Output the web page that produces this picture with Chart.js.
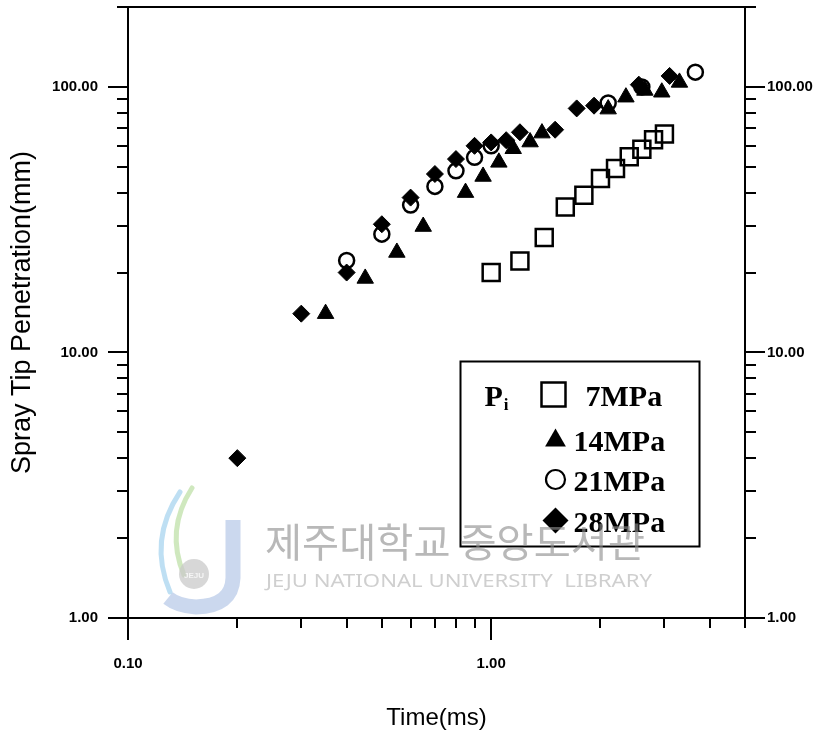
<!DOCTYPE html>
<html>
<head>
<meta charset="utf-8">
<script src="https://cdn.jsdelivr.net/npm/chart.js@4/dist/chart.umd.min.js"></script>
<style>
html,body{margin:0;padding:0;background:#fff;}
#wrap{width:836px;height:731px;position:relative;}
canvas{display:block;}
</style>
</head>
<body>
<div id="wrap"><canvas id="c" width="836" height="731"></canvas></div>
<script>
// ---- tick definitions ----
const xMajorTicks = [0.1, 1];
const xMajorLabels = ['0.10', '1.00'];
const xMinorTicks = [0.2, 0.3, 0.4, 0.5, 0.6, 0.7, 0.8, 0.9, 2, 3, 4, 5];
const yMajorTicks = [1, 10, 100];
const yMajorLabels = ['1.00', '10.00', '100.00'];
const yMinorTicks = [2, 3, 4, 5, 6, 7, 8, 9, 20, 30, 40, 50, 60, 70, 80, 90, 200];

// ---- series ----
const seriesNames = ['7MPa', '14MPa', '21MPa', '28MPa'];
const legendTitle = 'P';
const legendSub = 'i';

const time7 = [1.0, 1.2, 1.4, 1.6, 1.8, 2.0, 2.2, 2.4, 2.6, 2.8, 3.0];
const pen7  = [20.0, 22.1, 27.1, 35.3, 39.1, 45.2, 49.3, 54.6, 58.3, 63.3, 66.5];

const time14 = [0.35, 0.45, 0.55, 0.65, 0.85, 0.95, 1.05, 1.15, 1.28, 1.38, 2.1, 2.35, 2.65, 2.95, 3.3];
const pen14  = [14.0, 19.0, 23.8, 29.8, 40.0, 46.0, 52.0, 58.5, 62.0, 67.0, 82.5, 91.5, 97.0, 95.5, 104.0];

const time21 = [0.4, 0.5, 0.6, 0.7, 0.8, 0.9, 1.0, 2.1, 2.6, 3.65];
const pen21  = [22.2, 27.9, 35.9, 42.2, 48.3, 54.3, 60.0, 87.0, 100.0, 113.7];

const time28 = [0.2, 0.3, 0.4, 0.5, 0.6, 0.7, 0.8, 0.9, 1.0, 1.1, 1.2, 1.5, 1.72, 1.92, 2.55, 3.1];
const pen28  = [4.0, 14.0, 20.0, 30.4, 38.3, 47.0, 53.5, 60.0, 61.8, 63.0, 67.5, 69.0, 83.0, 85.0, 102.0, 110.0];

const watermarkKo = '제주대학교 중앙도서관';
const watermarkEn = 'JEJU NATIONAL UNIVERSITY  LIBRARY';
const watermarkLogo = 'JEJU';

// ---- helpers ----
const toPts = (t, s) => t.map((v, i) => ({x: v, y: s[i]}));
const near = (a, b) => Math.abs(a - b) / b < 1e-6;
function labelFor(v, majors, labels) {
  for (let i = 0; i < majors.length; i++) if (near(v, majors[i])) return labels[i];
  return '';
}
function tickList(majors, minors) {
  return majors.concat(minors).sort((a, b) => a - b).map(v => ({value: v}));
}

const tickFont = {family: "'Liberation Sans', Arial, sans-serif", size: 15, weight: 'bold'};

function drawMarker(ctx, style, x, y, r, lw) {
  ctx.beginPath();
  if (style === 'rect') {
    ctx.rect(x - r, y - r, 2 * r, 2 * r);
    ctx.lineWidth = lw; ctx.stroke();
  } else if (style === 'circle') {
    ctx.arc(x, y, r, 0, Math.PI * 2);
    ctx.lineWidth = lw; ctx.stroke();
  } else if (style === 'triangle') {
    const w = r * Math.sqrt(3);
    ctx.moveTo(x, y - r);
    ctx.lineTo(x + w / 2, y + r / 2);
    ctx.lineTo(x - w / 2, y + r / 2);
    ctx.closePath(); ctx.fill();
  } else if (style === 'rectRot') {
    ctx.moveTo(x, y - r); ctx.lineTo(x + r, y); ctx.lineTo(x, y + r); ctx.lineTo(x - r, y);
    ctx.closePath(); ctx.fill();
  }
}

const frameTicks = {
  id: 'frameTicks',
  afterDraw(chart) {
    const ctx = chart.ctx, ca = chart.chartArea;
    const xs = chart.scales.x, ys = chart.scales.y;
    ctx.save();
    ctx.strokeStyle = '#000';
    ctx.lineWidth = 2;
    ctx.beginPath();
    ctx.moveTo(ca.left - 1, ca.top); ctx.lineTo(ca.right + 1, ca.top);
    xMajorTicks.forEach(v => { const p = Math.round(xs.getPixelForValue(v)); ctx.moveTo(p, ca.bottom); ctx.lineTo(p, ca.bottom + 22); });
    xMinorTicks.forEach(v => { const p = Math.round(xs.getPixelForValue(v)); ctx.moveTo(p, ca.bottom); ctx.lineTo(p, ca.bottom + 10); });
    yMajorTicks.forEach(v => { const p = Math.round(ys.getPixelForValue(v)); ctx.moveTo(ca.left - 20, p); ctx.lineTo(ca.left, p); ctx.moveTo(ca.right, p); ctx.lineTo(ca.right + 20, p); });
    yMinorTicks.forEach(v => { const p = Math.round(ys.getPixelForValue(v)); ctx.moveTo(ca.left - 11, p); ctx.lineTo(ca.left, p); ctx.moveTo(ca.right, p); ctx.lineTo(ca.right + 11, p); });
    ctx.stroke();
    ctx.restore();
  }
};

const boxLegend = {
  id: 'boxLegend',
  afterDraw(chart) {
    const ctx = chart.ctx, ca = chart.chartArea;
    const W = ca.right - ca.left, H = ca.bottom - ca.top;
    const bx = Math.round(ca.left + 0.538 * W) + 0.5;
    const by = Math.round(ca.top + 0.579 * H) + 0.5;
    const bw = Math.round(0.387 * W), bh = Math.round(0.302 * H);
    ctx.save();
    ctx.fillStyle = '#fff';
    ctx.fillRect(bx, by, bw, bh);
    ctx.strokeStyle = '#000'; ctx.lineWidth = 2;
    ctx.strokeRect(bx, by, bw, bh);
    ctx.fillStyle = '#000';
    ctx.textBaseline = 'alphabetic';
    ctx.textAlign = 'left';
    const serif = "'Liberation Serif', 'Times New Roman', serif";
    ctx.font = 'bold 30px ' + serif;
    ctx.fillText(legendTitle, bx + 24, by + 44);
    const pw = ctx.measureText(legendTitle).width;
    ctx.font = 'bold 17px ' + serif;
    ctx.fillText(legendSub, bx + 24 + pw + 1, by + 48);
    const rows = [
      {style: 'rect', r: 12, lw: 2.5},
      {style: 'triangle', r: 12, lw: 0},
      {style: 'circle', r: 9.5, lw: 2.2},
      {style: 'rectRot', r: 13, lw: 0}
    ];
    const rowY = [33, 78, 118, 159];
    ctx.strokeStyle = '#000';
    rows.forEach((rw, i) => {
      const cy = by + rowY[i];
      drawMarker(ctx, rw.style, bx + 93 + (i === 0 ? 0 : 2), cy + (i === 1 ? 1 : 0), rw.r, rw.lw);
      ctx.font = 'bold 30px ' + serif;
      ctx.fillText(seriesNames[i], bx + (i === 0 ? 125 : 113), cy + 11);
    });
    ctx.restore();
  }
};

const watermark = {
  id: 'watermark',
  afterDraw(chart) {
    const ctx = chart.ctx;
    ctx.save();
    ctx.globalAlpha = 0.75;
    ctx.lineCap = 'round';
    ctx.strokeStyle = '#a8d4ef'; ctx.lineWidth = 5;
    ctx.beginPath(); ctx.moveTo(180, 492); ctx.quadraticCurveTo(148, 540, 170, 592); ctx.stroke();
    ctx.strokeStyle = '#bfe0a8'; ctx.lineWidth = 5;
    ctx.beginPath(); ctx.moveTo(192, 488); ctx.quadraticCurveTo(165, 530, 184, 575); ctx.stroke();
    ctx.strokeStyle = '#b9cbe8'; ctx.lineWidth = 15; ctx.lineCap = 'butt';
    ctx.beginPath(); ctx.moveTo(233, 520); ctx.lineTo(233, 578); ctx.quadraticCurveTo(232, 606, 196, 607); ctx.quadraticCurveTo(178, 606, 168, 598); ctx.stroke();
    ctx.fillStyle = '#c9c9c9';
    ctx.beginPath(); ctx.arc(194, 574, 15, 0, Math.PI * 2); ctx.fill();
    ctx.fillStyle = '#fff';
    ctx.font = "bold 8px 'Liberation Sans', sans-serif";
    ctx.textAlign = 'center'; ctx.textBaseline = 'middle';
    ctx.fillText(watermarkLogo, 194, 576);
    ctx.globalAlpha = 0.62;
    ctx.fillStyle = '#8c8c8c';
    ctx.textAlign = 'left'; ctx.textBaseline = 'alphabetic';
    ctx.font = "40px 'Noto Sans CJK KR', sans-serif";
    let w = ctx.measureText(watermarkKo).width;
    ctx.save(); ctx.translate(265, 557); ctx.scale(380 / w, 1); ctx.fillText(watermarkKo, 0, 0); ctx.restore();
    ctx.globalAlpha = 0.55;
    ctx.fillStyle = '#a8a8a8';
    ctx.font = "18px 'Noto Sans', 'Liberation Sans', sans-serif";
    w = ctx.measureText(watermarkEn).width;
    ctx.save(); ctx.translate(266, 587); ctx.scale(386 / w, 1); ctx.fillText(watermarkEn, 0, 0); ctx.restore();
    ctx.restore();
  }
};

function noPad(s) { s.paddingTop = 0; s.paddingBottom = 0; s.paddingLeft = 0; s.paddingRight = 0; }

const ctx = document.getElementById('c').getContext('2d');
new Chart(ctx, {
  type: 'scatter',
  data: {
    datasets: [
      {label: seriesNames[0], data: toPts(time7, pen7), pointStyle: 'rect', pointRadius: 12, borderWidth: 2.5,
       borderColor: '#000', backgroundColor: 'rgba(0,0,0,0)', order: 3},
      {label: seriesNames[1], data: toPts(time14, pen14), pointStyle: 'triangle', pointRadius: 9.5, borderWidth: 1,
       borderColor: '#000', backgroundColor: '#000', order: 2},
      {label: seriesNames[2], data: toPts(time21, pen21), pointStyle: 'circle', pointRadius: 7.5, borderWidth: 2.5,
       borderColor: '#000', backgroundColor: 'rgba(0,0,0,0)', order: 1},
      {label: seriesNames[3], data: toPts(time28, pen28), pointStyle: 'rectRot', pointRadius: 8.5, borderWidth: 1,
       borderColor: '#000', backgroundColor: '#000', order: 0}
    ]
  },
  options: {
    responsive: false,
    animation: false,
    devicePixelRatio: 1,
    layout: {autoPadding: false, padding: {top: 7, left: 0, right: 0, bottom: 0}},
    plugins: {legend: {display: false}, tooltip: {enabled: false}},
    elements: {point: {hoverRadius: 0}},
    scales: {
      x: {
        type: 'logarithmic', position: 'bottom', min: 0.1, max: 5,
        afterFit(s) { s.height = 113; noPad(s); },
        afterBuildTicks(s) { s.ticks = tickList(xMajorTicks, xMinorTicks); },
        grid: {display: false, drawTicks: false},
        border: {display: true, color: '#000', width: 2},
        ticks: {autoSkip: false, maxRotation: 0, minRotation: 0, padding: 37, color: '#000', font: tickFont,
                callback: v => labelFor(v, xMajorTicks, xMajorLabels)},
        title: {display: true, text: 'Time(ms)', color: '#000',
                font: {family: "'Liberation Sans', Arial, sans-serif", size: 24, lineHeight: 1},
                padding: {top: 0, bottom: 1}}
      },
      y: {
        type: 'logarithmic', position: 'left', min: 1, max: 200,
        afterFit(s) { s.width = 128; noPad(s); },
        afterBuildTicks(s) { s.ticks = tickList(yMajorTicks, yMinorTicks); },
        grid: {display: false, drawTicks: false},
        border: {display: true, color: '#000', width: 2},
        ticks: {autoSkip: false, padding: 30, color: '#000', font: tickFont,
                callback: v => labelFor(v, yMajorTicks, yMajorLabels)},
        title: {display: true, text: 'Spray Tip Penetration(mm)', color: '#000',
                font: {family: "'Liberation Sans', Arial, sans-serif", size: 27, lineHeight: 1},
                padding: {top: 9, bottom: 0}}
      },
      y2: {
        type: 'logarithmic', position: 'right', min: 1, max: 200,
        afterFit(s) { s.width = 91; noPad(s); },
        afterBuildTicks(s) { s.ticks = tickList(yMajorTicks, yMinorTicks); },
        grid: {display: false, drawTicks: false},
        border: {display: true, color: '#000', width: 2},
        ticks: {autoSkip: false, padding: 22, color: '#000', font: tickFont,
                callback: v => labelFor(v, yMajorTicks, yMajorLabels)}
      }
    }
  },
  plugins: [frameTicks, boxLegend, watermark]
});
</script>
</body>
</html>
